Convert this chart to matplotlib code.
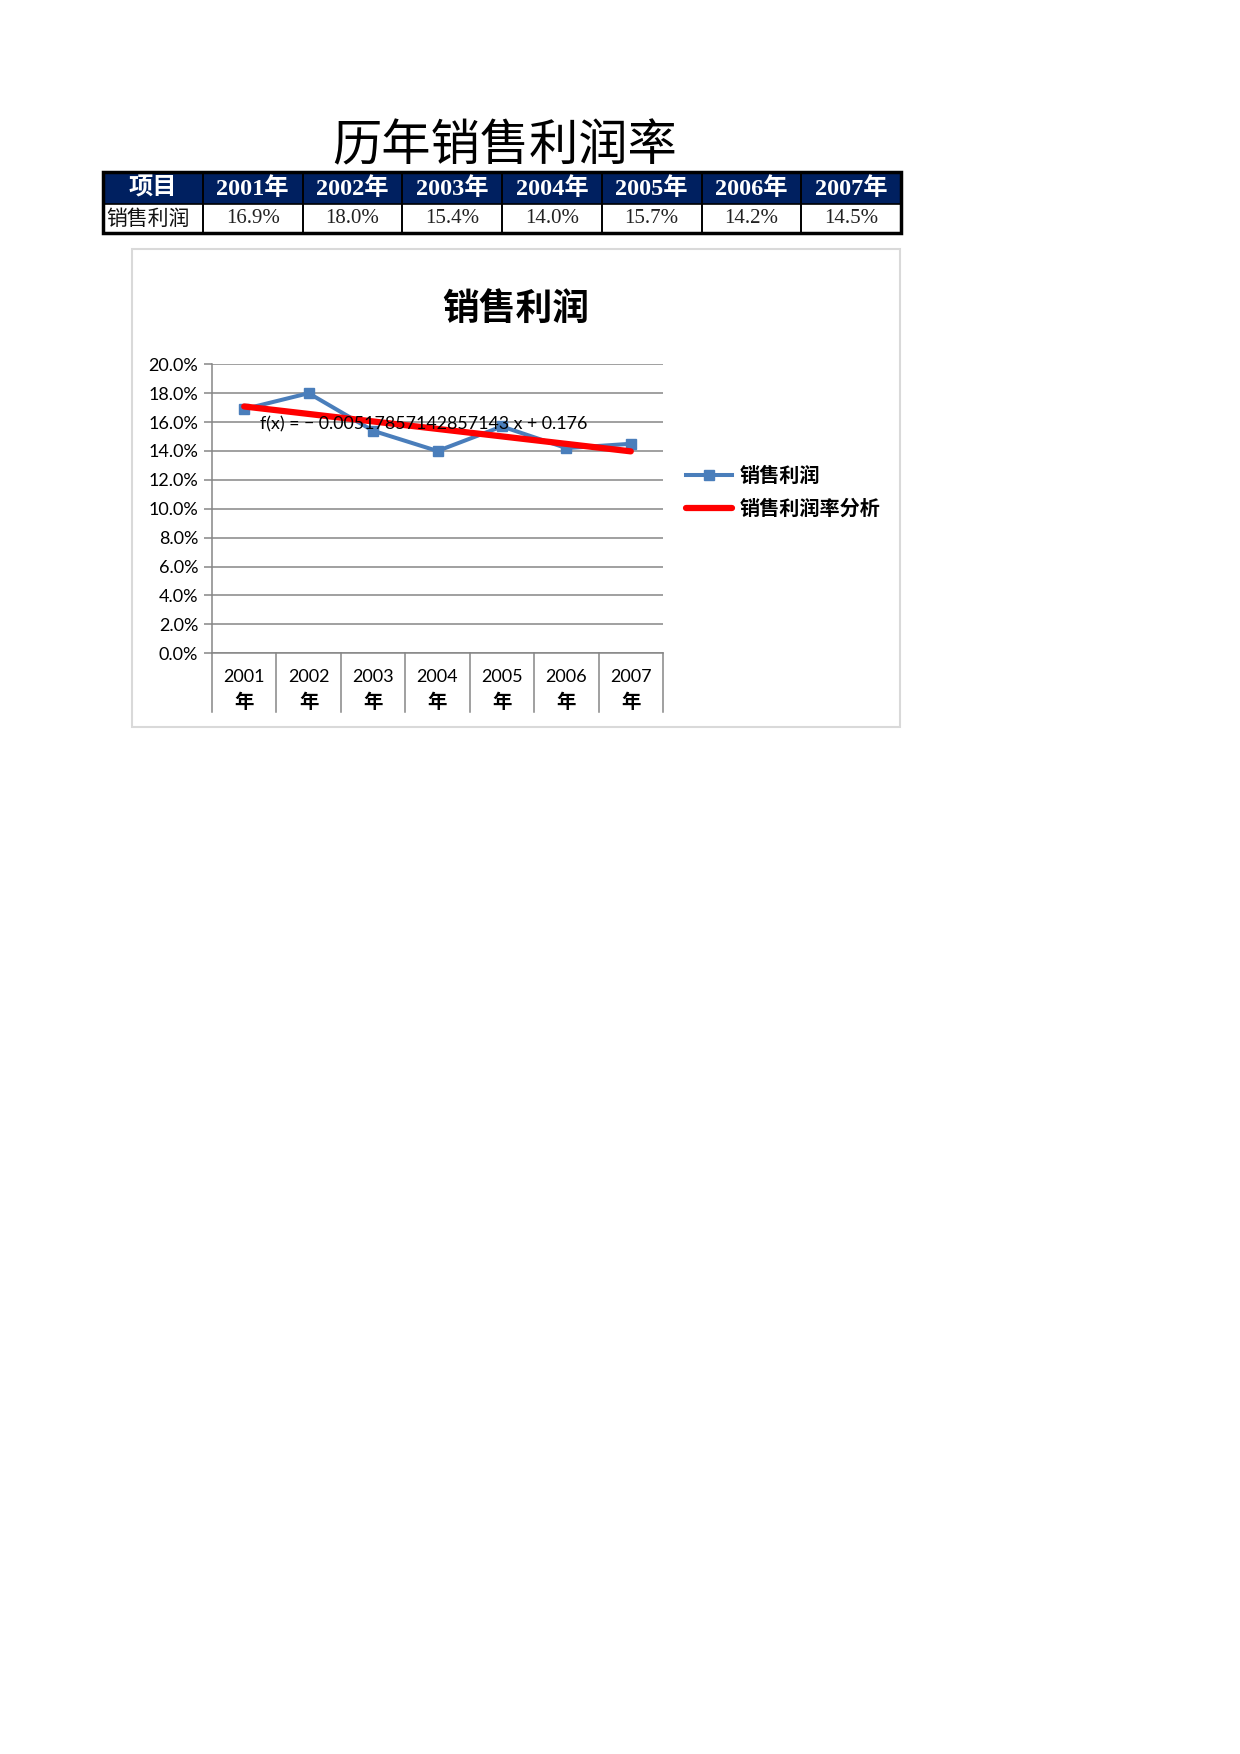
import numpy as np
import matplotlib
matplotlib.use("Agg")
import matplotlib.pyplot as plt
from matplotlib.patches import Rectangle
from matplotlib.lines import Line2D
import matplotlib.transforms as mtransforms

plt.rcParams['font.family'] = ['Lato', 'Noto Sans CJK SC', 'DejaVu Sans']

# 数据
years = ['2001年', '2002年', '2003年', '2004年', '2005年', '2006年', '2007年']
rates = [16.9, 18.0, 15.4, 14.0, 15.7, 14.2, 14.5]   # 销售利润率 (%)
row_label = '销售利润'
head_label = '项目'
yticks = [0, 2, 4, 6, 8, 10, 12, 14, 16, 18, 20]

W, H = 1240, 1754
fig = plt.figure(figsize=(W / 100, H / 100), dpi=100)

# 像素坐标的背景层 (表格 + 图表边框)
bg = fig.add_axes([0, 0, 1, 1])
bg.set_xlim(0, W)
bg.set_ylim(H, 0)
bg.axis('off')

cjk = ['Liberation Serif', 'Noto Sans CJK SC']
bg.text(505, 146, '历年销售利润率', fontsize=35.5, ha='center', va='center',
        family=['Noto Sans CJK SC'])

# 表格
x0, x1 = 103, 901
y0, ym, y1 = 172, 204, 233
cw = (x1 - x0) / 8
bg.add_patch(Rectangle((x0, y0), x1 - x0, ym - y0, facecolor='#002060', edgecolor='none'))
heads = [head_label] + years
vals = [row_label] + [f'{v:.1f}%' for v in rates]
for i in range(8):
    cx = x0 + cw * (i + 0.5)
    bg.text(cx, (y0 + ym) / 2 + 1, heads[i], color='white', fontsize=17.5, fontweight='bold',
            ha='center', va='center', family=cjk)
    if i == 0:
        bg.text(x0 + 3, (ym + y1) / 2, vals[i], fontsize=15, ha='left', va='center',
                family=['Noto Sans CJK SC'], color='#111111')
    else:
        bg.text(cx, (ym + y1) / 2, vals[i], fontsize=15, ha='center', va='center',
                family=['Liberation Serif'], color='#222222')
    if i > 0:
        bg.plot([x0 + cw * i] * 2, [y0, y1], color='black', lw=1.4)
bg.plot([x0, x1], [ym, ym], color='black', lw=1.2)
bg.add_patch(Rectangle((x0, y0), x1 - x0, y1 - y0, facecolor='none', edgecolor='black', lw=2.5))

# 图表边框
bg.add_patch(Rectangle((132, 249), 768, 478, facecolor='none', edgecolor='#D9D9D9', lw=1.5))
bg.text(516, 309, '销售利润', fontsize=26.5, fontweight='bold', ha='center', va='center',
        family=['Noto Sans CJK SC'])

# 折线图
ax = fig.add_axes([212 / W, 1 - 653.3 / H, 451 / W, 289 / H])
x = np.arange(1, len(rates) + 1)
y = np.array(rates) / 100
xm = x.mean()
slope_pct = np.sum((x - xm) * (np.array(rates) - np.mean(rates))) / np.sum((x - xm) ** 2)
icpt_pct = np.mean(rates) - slope_pct * xm
slope, icpt = slope_pct / 100, icpt_pct / 100
grid_c = '#868686'

for t in yticks:
    ax.axhline(t / 100, color=grid_c, lw=1.1, zorder=1)
ax.plot(x, y, color='#4A7EBB', lw=2.9, marker='s', ms=7, zorder=3, label='销售利润')
ax.plot(x, slope * x + icpt, color='#FF0000', lw=4.5, solid_capstyle='round', zorder=4,
        label='销售利润率分析')
ax.text(1.245, 0.1585, f'f(x) = − {abs(slope):.15g} x + {round(icpt, 6):g}',
        fontsize=12.8, ha='left', va='center', zorder=5)

ax.set_xlim(0.5, len(rates) + 0.5)
ax.set_ylim(0, 0.2)
ax.set_yticks([t / 100 for t in yticks])
ax.set_yticklabels([f'{t:.1f}%' for t in yticks], fontsize=13)
ax.tick_params(axis='y', length=6, width=1.1, color=grid_c, pad=4)
ax.set_xticks([])
for s in ['top', 'right']:
    ax.spines[s].set_visible(False)
ax.spines['left'].set_color(grid_c)
ax.spines['left'].set_linewidth(1.1)
ax.spines['bottom'].set_color(grid_c)
ax.spines['bottom'].set_linewidth(1.1)
ax.patch.set_alpha(0)

# 分类轴: 分隔线和两行标签
trans = mtransforms.blended_transform_factory(ax.transData, ax.transAxes)
for b in np.arange(0.5, len(rates) + 1, 1.0):
    ax.plot([b, b], [0, -0.204], transform=trans, color=grid_c, lw=1.1, clip_on=False)
for xi, lab in zip(x, years):
    ax.text(xi, -0.082, lab[:-1], transform=trans, fontsize=13, ha='center', va='center')
    ax.text(xi, -0.171, lab[-1], transform=trans, fontsize=14, fontweight='bold',
            ha='center', va='center', family=['Noto Sans CJK SC'])

handles = [Line2D([], [], color='#4A7EBB', lw=2.9, marker='s', ms=7.5),
           Line2D([], [], color='#FF0000', lw=4.5, solid_capstyle='round')]
fig.legend(handles, ['销售利润', '销售利润率分析'], loc='center left',
           bbox_to_anchor=(686 / W, 1 - 492 / H), frameon=False, borderpad=0,
           borderaxespad=0, handlelength=2.3, handletextpad=0.35, labelspacing=0.6,
           prop={'family': 'Noto Sans CJK SC', 'weight': 'bold', 'size': 14.5})

fig.savefig('out.png', dpi=100)
